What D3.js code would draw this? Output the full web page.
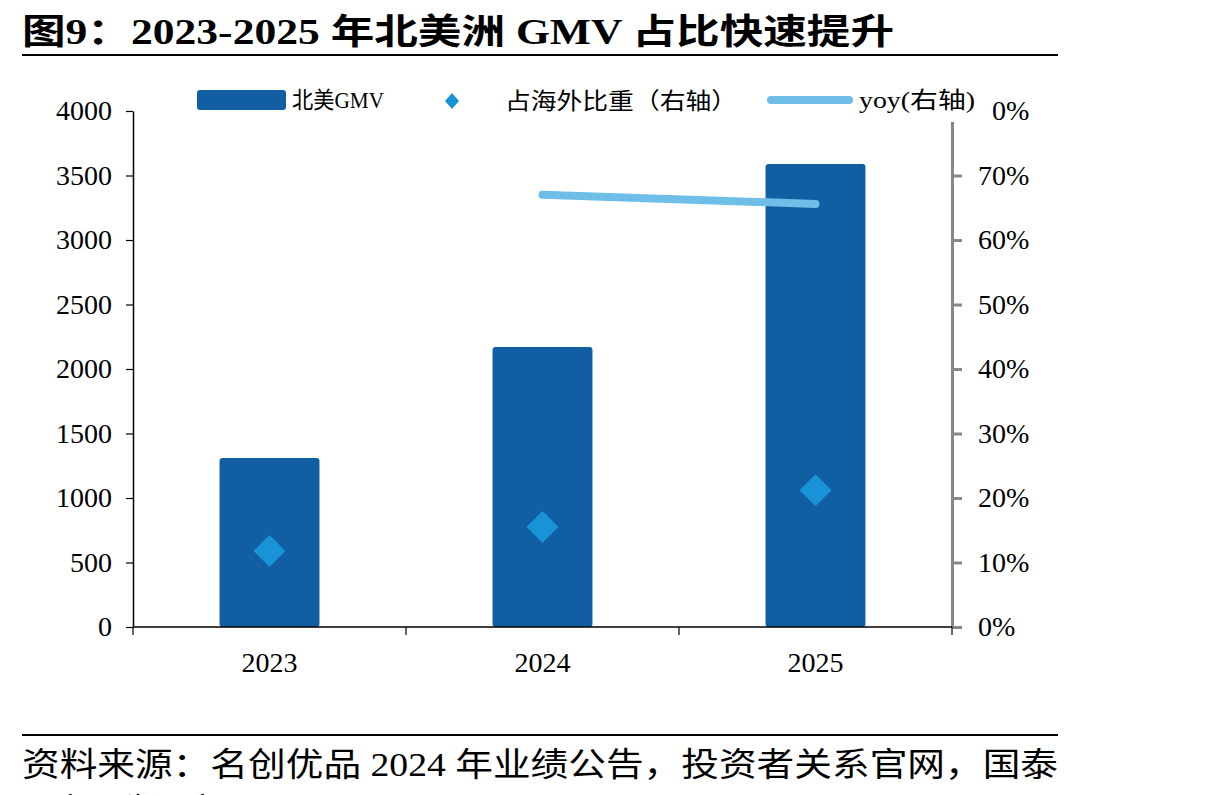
<!DOCTYPE html>
<html>
<head>
<meta charset="utf-8">
<script src="https://cdn.jsdelivr.net/npm/d3@7"></script>
<style>
  body { margin: 0; background: #fff; }
  svg text { font-family: "Liberation Serif", "Noto Sans CJK SC", serif; }
</style>
</head>
<body>
<svg id="chart" width="1215" height="795"></svg>
<script>
var years = ["2023", "2024", "2025"];
var gmv = [1310, 2170, 3590];
var share = [0.118, 0.155, 0.212];
var yoyYears = ["2024", "2025"];
var yoy = [0.670, 0.656];
var leftTicks = [0, 500, 1000, 1500, 2000, 2500, 3000, 3500, 4000];
var rightTicks = [0, 0.1, 0.2, 0.3, 0.4, 0.5, 0.6, 0.7, 0.8];

var svg = d3.select("#chart");
var plotL = 133, plotR = 952, plotT = 111, plotB = 627;

var x = d3.scaleBand().domain(years).range([plotL, plotR]).paddingInner(0.634).paddingOuter(0.317);
var y = d3.scaleLinear().domain([0, 4000]).range([plotB, plotT]);
var y2 = d3.scaleLinear().domain([0, 0.8]).range([plotB, plotT]);

// title + rules
svg.append("text").attr("x", 22).attr("y", 44)
  .attr("textLength", 872).attr("lengthAdjust", "spacingAndGlyphs")
  .style("font-size", "35px").style("font-weight", "bold")
  .text("图9：2023-2025 年北美洲 GMV 占比快速提升");
svg.append("line").attr("x1", 22).attr("x2", 1058).attr("y1", 55).attr("y2", 55)
  .attr("stroke", "#000").attr("stroke-width", 2);
svg.append("line").attr("x1", 22).attr("x2", 1058).attr("y1", 735).attr("y2", 735)
  .attr("stroke", "#000").attr("stroke-width", 2);
svg.append("text").attr("x", 22).attr("y", 776)
  .attr("textLength", 1036).attr("lengthAdjust", "spacingAndGlyphs")
  .style("font-size", "33px")
  .text("资料来源：名创优品 2024 年业绩公告，投资者关系官网，国泰");
svg.append("text").attr("x", 22).attr("y", 822)
  .style("font-size", "33px")
  .text("君安证券研究");

// bars
svg.selectAll("rect.bar").data(years).enter().append("rect")
  .attr("class", "bar")
  .attr("x", function(d) { return x(d); })
  .attr("y", function(d, i) { return y(gmv[i]); })
  .attr("width", x.bandwidth())
  .attr("height", function(d, i) { return plotB - y(gmv[i]); })
  .attr("rx", 3)
  .attr("fill", "#125ea2");

// left axis
var la = svg.append("g").attr("transform", "translate(" + plotL + ",0)")
  .call(d3.axisLeft(y).tickValues(leftTicks).tickFormat(d3.format("d"))
    .tickSize(7).tickPadding(14).tickSizeOuter(0));
la.select(".domain").attr("stroke", "#000").attr("stroke-width", 1.5);
la.selectAll(".tick line").attr("stroke", "#000").attr("stroke-width", 1.2);
la.selectAll("text").style("font-size", "28px").style("font-family", "Liberation Serif").attr("fill", "#000");

// right axis
var ra = svg.append("g").attr("transform", "translate(" + plotR + ",0)")
  .call(d3.axisRight(y2).tickValues(rightTicks).tickFormat(d3.format(".0%"))
    .tickSize(10).tickPadding(16).tickSizeOuter(0));
ra.select(".domain").attr("stroke", "#878787").attr("stroke-width", 3);
ra.selectAll(".tick line").attr("stroke", "#878787").attr("stroke-width", 3);
ra.selectAll("text").style("font-size", "28px").style("font-family", "Liberation Serif").attr("fill", "#000");

// x axis with boundary ticks
svg.append("line").attr("x1", plotL).attr("x2", plotR).attr("y1", plotB).attr("y2", plotB)
  .attr("stroke", "#000").attr("stroke-width", 1.5);
var bounds = [plotL].concat(years.map(function(d) { return x(d) + x.bandwidth() + x.step() * x.paddingInner() / 2; }));
bounds[bounds.length - 1] = plotR;
svg.selectAll("line.xt").data(bounds).enter().append("line")
  .attr("class", "xt")
  .attr("x1", function(d) { return d; }).attr("x2", function(d) { return d; })
  .attr("y1", plotB).attr("y2", plotB + 8)
  .attr("stroke", "#000").attr("stroke-width", 1.2);
svg.selectAll("text.xl").data(years).enter().append("text")
  .attr("class", "xl")
  .attr("x", function(d) { return x(d) + x.bandwidth() / 2; })
  .attr("y", 672)
  .attr("text-anchor", "middle")
  .style("font-size", "28px")
  .text(function(d) { return d; });

// yoy line
var line = d3.line()
  .x(function(d, i) { return x(yoyYears[i]) + x.bandwidth() / 2; })
  .y(function(d) { return y2(d); });
svg.append("path").datum(yoy)
  .attr("d", line)
  .attr("fill", "none")
  .attr("stroke", "#6fbee8")
  .attr("stroke-width", 8)
  .attr("stroke-linecap", "round");

// diamonds
var diamond = "M0,-16L16,0L0,16L-16,0Z";
svg.selectAll("path.dm").data(share).enter().append("path")
  .attr("class", "dm")
  .attr("d", diamond)
  .attr("transform", function(d, i) { return "translate(" + (x(years[i]) + x.bandwidth() / 2) + "," + y2(d) + ")"; })
  .attr("fill", "#1993d8");

// legend (white box sits over top of right axis)
var lg = svg.append("g");
lg.append("rect").attr("x", 183).attr("y", 78).attr("width", 810).attr("height", 44).attr("fill", "#fff");
lg.append("rect").attr("x", 197).attr("y", 90).attr("width", 89).attr("height", 20).attr("rx", 3).attr("fill", "#125ea2");
lg.append("text").attr("x", 292).attr("y", 108).attr("textLength", 92).attr("lengthAdjust", "spacingAndGlyphs")
  .style("font-size", "23px").text("北美GMV");
lg.append("path").attr("d", "M0,-8L7,0L0,8L-7,0Z").attr("transform", "translate(452,101)").attr("fill", "#1993d8");
lg.append("text").attr("x", 505).attr("y", 109).attr("textLength", 232).attr("lengthAdjust", "spacingAndGlyphs")
  .style("font-size", "23px").text("占海外比重（右轴）");
lg.append("line").attr("x1", 771).attr("x2", 849).attr("y1", 100).attr("y2", 100)
  .attr("stroke", "#6fbee8").attr("stroke-width", 8).attr("stroke-linecap", "round");
lg.append("text").attr("x", 859).attr("y", 108).attr("textLength", 116).attr("lengthAdjust", "spacingAndGlyphs")
  .style("font-size", "23px").text("yoy(右轴)");
</script>
</body>
</html>
